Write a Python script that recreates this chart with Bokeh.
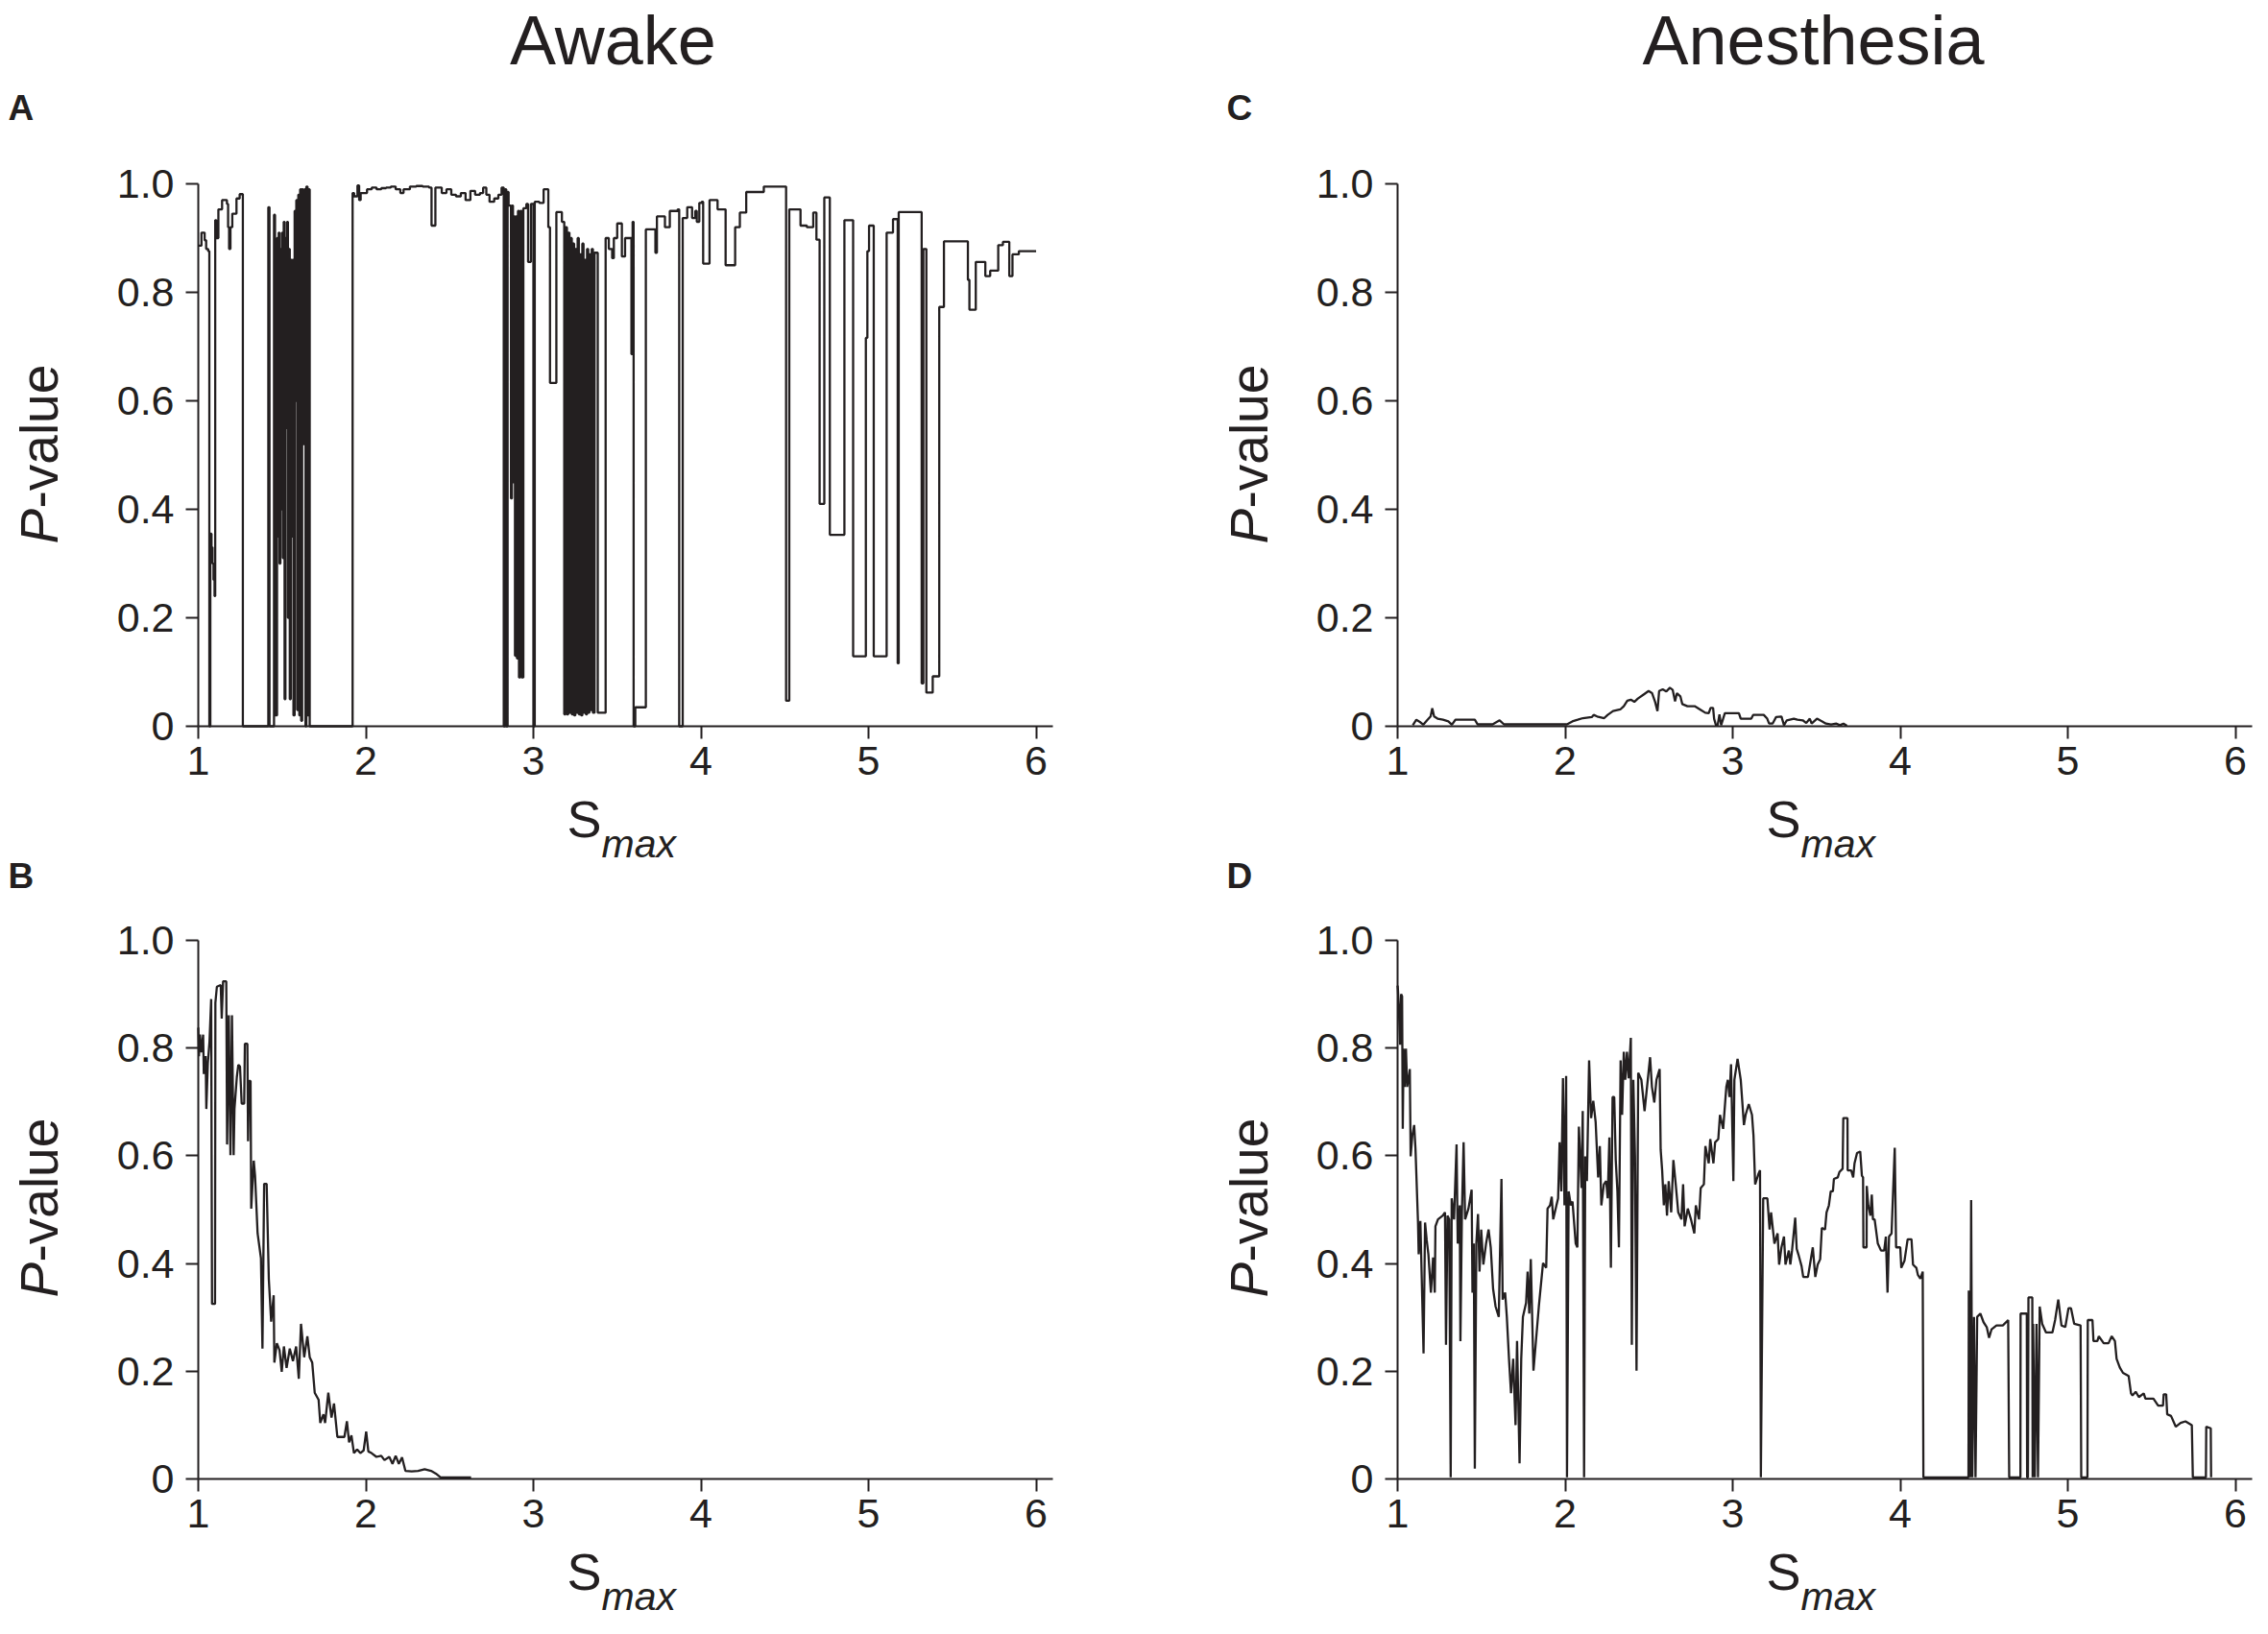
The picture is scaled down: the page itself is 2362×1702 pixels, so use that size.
import math
from bokeh.plotting import figure
from bokeh.models import Range1d, FixedTicker, Label
from bokeh.layouts import column, row
from bokeh.embed import file_html
from bokeh.resources import INLINE

# ---------------- data ----------------
X_TICKS = [1, 2, 3, 4, 5, 6]
Y_TICKS = [0, 0.2, 0.4, 0.6, 0.8, 1.0]
Y_TICK_LABELS = ["0", "0.2", "0.4", "0.6", "0.8", "1.0"]
TITLES = ["Awake", "Anesthesia"]
PANEL_LETTERS = ["A", "B", "C", "D"]

# Panel A (awake, step curve)
A_X = [1.000, 1.019, 1.038, 1.047, 1.059, 1.066, 1.072, 1.079, 1.085, 1.091,
       1.097, 1.101, 1.108, 1.120, 1.142, 1.171, 1.178, 1.184, 1.192, 1.203,
       1.228, 1.247, 1.266, 1.418, 1.425, 1.452, 1.458, 1.470, 1.475, 1.480,
       1.485, 1.490, 1.495, 1.500, 1.505, 1.510, 1.515, 1.520, 1.525, 1.530,
       1.535, 1.540, 1.546, 1.552, 1.558, 1.563, 1.568, 1.575, 1.580, 1.585,
       1.590, 1.597, 1.603, 1.608, 1.614, 1.620, 1.626, 1.634, 1.640, 1.645,
       1.652, 1.658, 1.665, 1.921, 1.930, 1.950, 1.960, 1.969, 2.007, 2.035,
       2.064, 2.092, 2.121, 2.149, 2.178, 2.206, 2.225, 2.263, 2.301, 2.339,
       2.377, 2.392, 2.415, 2.453, 2.481, 2.510, 2.538, 2.567, 2.595, 2.624,
       2.652, 2.681, 2.700, 2.719, 2.738, 2.766, 2.791, 2.810, 2.823, 2.832,
       2.838, 2.846, 2.852, 2.866, 2.872, 2.878, 2.884, 2.890, 2.896, 2.902,
       2.908, 2.914, 2.922, 2.930, 2.940, 2.958, 2.968, 2.985, 3.000, 3.008,
       3.035, 3.061, 3.089, 3.099, 3.137, 3.170, 3.184, 3.192, 3.200, 3.208,
       3.215, 3.222, 3.229, 3.236, 3.243, 3.250, 3.257, 3.264, 3.271, 3.278,
       3.285, 3.292, 3.299, 3.306, 3.313, 3.320, 3.327, 3.334, 3.341, 3.348,
       3.355, 3.365, 3.384, 3.431, 3.450, 3.470, 3.480, 3.500, 3.519, 3.528,
       3.547, 3.576, 3.585, 3.592, 3.598, 3.608, 3.671, 3.728, 3.737, 3.785,
       3.814, 3.861, 3.870, 3.891, 3.918, 3.947, 3.966, 3.975, 3.990, 4.004,
       4.013, 4.051, 4.099, 4.147, 4.204, 4.232, 4.270, 4.375, 4.508, 4.527,
       4.594, 4.632, 4.670, 4.689, 4.708, 4.736, 4.769, 4.856, 4.908, 4.984,
       4.993, 5.003, 5.031, 5.108, 5.146, 5.174, 5.180, 5.317, 5.327, 5.345,
       5.383, 5.422, 5.450, 5.593, 5.602, 5.640, 5.697, 5.726, 5.774, 5.802,
       5.840, 5.859, 5.897, 6.000]
A_Y = [0.886, 0.910, 0.896, 0.880, 0.876, 0.000, 0.355, 0.330, 0.300, 0.270,
       0.240, 0.933, 0.900, 0.953, 0.970, 0.963, 0.920, 0.880, 0.920, 0.945,
       0.973, 0.981, 0.000, 0.957, 0.000, 0.943, 0.020, 0.900, 0.350, 0.910,
       0.300, 0.880, 0.400, 0.910, 0.310, 0.930, 0.050, 0.900, 0.550, 0.930,
       0.200, 0.880, 0.050, 0.860, 0.350, 0.860, 0.020, 0.950, 0.600, 0.970,
       0.030, 0.980, 0.020, 0.990, 0.010, 0.990, 0.520, 0.990, 0.000, 0.995,
       0.020, 0.990, 0.000, 0.983, 0.977, 0.997, 0.970, 0.983, 0.990, 0.993,
       0.990, 0.992, 0.993, 0.995, 0.990, 0.983, 0.990, 0.995, 0.996, 0.995,
       0.993, 0.923, 0.993, 0.983, 0.990, 0.980, 0.977, 0.983, 0.970, 0.987,
       0.980, 0.983, 0.993, 0.980, 0.967, 0.973, 0.980, 0.993, 0.000, 0.990,
       0.000, 0.985, 0.960, 0.420, 0.960, 0.450, 0.940, 0.130, 0.940, 0.125,
       0.950, 0.090, 0.950, 0.090, 0.955, 0.963, 0.856, 0.963, 0.000, 0.967,
       0.965, 0.990, 0.920, 0.633, 0.948, 0.930, 0.022, 0.920, 0.022, 0.910,
       0.025, 0.900, 0.022, 0.890, 0.020, 0.880, 0.025, 0.900, 0.022, 0.870,
       0.020, 0.890, 0.025, 0.860, 0.022, 0.880, 0.025, 0.870, 0.030, 0.880,
       0.025, 0.873, 0.025, 0.900, 0.880, 0.863, 0.900, 0.927, 0.927, 0.866,
       0.900, 0.900, 0.686, 0.930, 0.000, 0.035, 0.916, 0.873, 0.940, 0.920,
       0.950, 0.953, 0.000, 0.937, 0.957, 0.937, 0.950, 0.930, 0.965, 0.967,
       0.853, 0.970, 0.953, 0.850, 0.920, 0.947, 0.985, 0.995, 0.047, 0.953,
       0.923, 0.920, 0.947, 0.897, 0.410, 0.975, 0.353, 0.933, 0.129, 0.716,
       0.876, 0.923, 0.129, 0.910, 0.935, 0.116, 0.948, 0.079, 0.880, 0.062,
       0.092, 0.773, 0.894, 0.823, 0.768, 0.856, 0.830, 0.840, 0.887, 0.893,
       0.830, 0.870, 0.876, 0.876]

# Panel B (awake)
B_X = [1.000, 1.004, 1.010, 1.019, 1.029, 1.033, 1.044, 1.048, 1.057, 1.067,
       1.077, 1.082, 1.100, 1.102, 1.111, 1.134, 1.140, 1.148, 1.167, 1.172,
       1.182, 1.192, 1.201, 1.211, 1.216, 1.230, 1.239, 1.249, 1.259, 1.274,
       1.278, 1.293, 1.297, 1.303, 1.312, 1.316, 1.331, 1.339, 1.354, 1.374,
       1.383, 1.393, 1.408, 1.421, 1.435, 1.450, 1.454, 1.469, 1.485, 1.498,
       1.511, 1.527, 1.546, 1.565, 1.584, 1.600, 1.613, 1.632, 1.651, 1.665,
       1.680, 1.695, 1.718, 1.728, 1.747, 1.757, 1.776, 1.795, 1.810, 1.830,
       1.872, 1.887, 1.900, 1.914, 1.929, 1.948, 1.967, 1.987, 2.002, 2.015,
       2.034, 2.063, 2.092, 2.111, 2.140, 2.159, 2.178, 2.197, 2.216, 2.236,
       2.274, 2.312, 2.351, 2.389, 2.418, 2.446, 2.628]
B_Y = [0.838, 0.785, 0.825, 0.792, 0.825, 0.752, 0.785, 0.687, 0.772, 0.812,
       0.891, 0.325, 0.325, 0.884, 0.914, 0.917, 0.855, 0.924, 0.924, 0.621,
       0.861, 0.601, 0.861, 0.601, 0.687, 0.746, 0.769, 0.766, 0.697, 0.697,
       0.808, 0.808, 0.627, 0.739, 0.739, 0.502, 0.591, 0.562, 0.456, 0.410,
       0.242, 0.548, 0.548, 0.371, 0.292, 0.341, 0.216, 0.252, 0.239, 0.199,
       0.246, 0.206, 0.242, 0.219, 0.246, 0.186, 0.288, 0.226, 0.265, 0.226,
       0.216, 0.160, 0.147, 0.104, 0.120, 0.104, 0.160, 0.114, 0.140, 0.078,
       0.078, 0.107, 0.068, 0.081, 0.048, 0.055, 0.048, 0.053, 0.088, 0.051,
       0.048, 0.041, 0.043, 0.035, 0.041, 0.028, 0.043, 0.028, 0.040, 0.015,
       0.014, 0.015, 0.018, 0.015, 0.010, 0.003, 0.003]

# Panel C (anesthesia)
C_X = [1.091, 1.112, 1.133, 1.154, 1.176, 1.197, 1.207, 1.218, 1.239, 1.271,
       1.303, 1.324, 1.345, 1.461, 1.478, 1.567, 1.609, 1.635, 2.011, 2.043,
       2.075, 2.106, 2.159, 2.170, 2.191, 2.233, 2.254, 2.286, 2.329, 2.350,
       2.371, 2.392, 2.413, 2.434, 2.466, 2.498, 2.519, 2.536, 2.551, 2.561,
       2.582, 2.604, 2.625, 2.642, 2.656, 2.667, 2.688, 2.699, 2.730, 2.773,
       2.805, 2.836, 2.857, 2.868, 2.883, 2.889, 2.900, 2.910, 2.921, 2.931,
       2.953, 3.037, 3.048, 3.111, 3.122, 3.185, 3.206, 3.217, 3.238, 3.259,
       3.291, 3.306, 3.323, 3.365, 3.386, 3.418, 3.439, 3.460, 3.471, 3.503,
       3.534, 3.556, 3.587, 3.619, 3.640, 3.661, 3.682]
C_Y = [0.002, 0.012, 0.008, 0.003, 0.011, 0.018, 0.033, 0.018, 0.014, 0.012,
       0.009, 0.003, 0.012, 0.012, 0.0035, 0.0035, 0.011, 0.0035, 0.0035, 0.009,
       0.012, 0.015, 0.017, 0.021, 0.018, 0.015, 0.021, 0.028, 0.031, 0.037,
       0.047, 0.049, 0.045, 0.051, 0.058, 0.065, 0.061, 0.046, 0.028, 0.065,
       0.068, 0.064, 0.071, 0.067, 0.046, 0.061, 0.055, 0.041, 0.037, 0.037,
       0.031, 0.025, 0.024, 0.034, 0.034, 0.014, 0.002, 0.002, 0.022, 0.002,
       0.024, 0.024, 0.014, 0.014, 0.021, 0.021, 0.014, 0.005, 0.005, 0.017,
       0.018, 0.002, 0.011, 0.014, 0.012, 0.011, 0.006, 0.014, 0.005, 0.014,
       0.009, 0.005, 0.0035, 0.005, 0.002, 0.005, 0.001]

# Panel D (anesthesia)
D_X = [1.000, 1.002, 1.008, 1.015, 1.021, 1.027, 1.031, 1.036, 1.042, 1.050,
       1.057, 1.065, 1.073, 1.078, 1.088, 1.099, 1.107, 1.122, 1.126, 1.136,
       1.155, 1.164, 1.174, 1.184, 1.199, 1.212, 1.222, 1.226, 1.241, 1.270,
       1.283, 1.289, 1.298, 1.308, 1.317, 1.323, 1.337, 1.352, 1.359, 1.371,
       1.375, 1.384, 1.394, 1.403, 1.423, 1.442, 1.447, 1.455, 1.461, 1.470,
       1.480, 1.489, 1.499, 1.512, 1.528, 1.543, 1.556, 1.570, 1.585, 1.604,
       1.620, 1.627, 1.642, 1.652, 1.665, 1.677, 1.690, 1.704, 1.713, 1.728,
       1.738, 1.748, 1.767, 1.776, 1.786, 1.795, 1.811, 1.843, 1.868, 1.887,
       1.895, 1.910, 1.920, 1.929, 1.948, 1.958, 1.967, 1.977, 1.987, 1.996,
       2.006, 2.011, 2.021, 2.034, 2.044, 2.063, 2.073, 2.082, 2.098, 2.105,
       2.113, 2.120, 2.130, 2.143, 2.155, 2.168, 2.182, 2.197, 2.207, 2.216,
       2.231, 2.245, 2.254, 2.264, 2.273, 2.283, 2.293, 2.302, 2.312, 2.321,
       2.331, 2.340, 2.350, 2.359, 2.369, 2.379, 2.392, 2.398, 2.407, 2.417,
       2.426, 2.436, 2.455, 2.474, 2.493, 2.507, 2.518, 2.532, 2.545, 2.564,
       2.570, 2.579, 2.589, 2.598, 2.608, 2.618, 2.633, 2.646, 2.660, 2.675,
       2.694, 2.704, 2.713, 2.732, 2.751, 2.771, 2.780, 2.799, 2.809, 2.828,
       2.837, 2.857, 2.866, 2.885, 2.895, 2.914, 2.924, 2.943, 2.962, 2.971,
       2.981, 2.990, 3.004, 3.010, 3.029, 3.048, 3.067, 3.077, 3.096, 3.115,
       3.124, 3.134, 3.153, 3.163, 3.168, 3.182, 3.207, 3.220, 3.229, 3.249,
       3.268, 3.277, 3.291, 3.306, 3.315, 3.335, 3.344, 3.354, 3.373, 3.382,
       3.392, 3.411, 3.421, 3.449, 3.478, 3.493, 3.507, 3.522, 3.532, 3.551,
       3.560, 3.574, 3.585, 3.598, 3.604, 3.627, 3.637, 3.656, 3.660, 3.685,
       3.686, 3.707, 3.719, 3.727, 3.742, 3.761, 3.771, 3.778, 3.780, 3.799,
       3.800, 3.809, 3.822, 3.830, 3.837, 3.847, 3.866, 3.885, 3.904, 3.914,
       3.924, 3.933, 3.948, 3.967, 3.975, 3.987, 4.000, 4.006, 4.025, 4.044,
       4.067, 4.076, 4.096, 4.105, 4.120, 4.134, 4.138, 4.407, 4.409, 4.417,
       4.423, 4.430, 4.440, 4.449, 4.459, 4.478, 4.497, 4.516, 4.530, 4.545,
       4.574, 4.612, 4.644, 4.650, 4.717, 4.718, 4.755, 4.757, 4.762, 4.765,
       4.788, 4.790, 4.793, 4.803, 4.813, 4.822, 4.832, 4.847, 4.870, 4.908,
       4.924, 4.943, 4.962, 4.985, 5.004, 5.019, 5.038, 5.076, 5.080, 5.117,
       5.119, 5.147, 5.153, 5.176, 5.185, 5.214, 5.243, 5.262, 5.281, 5.291,
       5.310, 5.329, 5.363, 5.377, 5.386, 5.405, 5.424, 5.453, 5.463, 5.511,
       5.539, 5.568, 5.572, 5.587, 5.593, 5.616, 5.644, 5.673, 5.702, 5.740,
       5.746, 5.824, 5.826, 5.853, 5.855]
D_Y = [0.916, 0.909, 0.871, 0.806, 0.900, 0.896, 0.650, 0.799, 0.728, 0.799,
       0.728, 0.741, 0.761, 0.599, 0.638, 0.657, 0.612, 0.476, 0.417, 0.479,
       0.233, 0.476, 0.443, 0.417, 0.346, 0.411, 0.346, 0.469, 0.482, 0.489,
       0.495, 0.249, 0.489, 0.482, 0.003, 0.521, 0.482, 0.621, 0.437, 0.508,
       0.256, 0.495, 0.625, 0.482, 0.502, 0.537, 0.346, 0.437, 0.019, 0.437,
       0.492, 0.385, 0.463, 0.398, 0.437, 0.463, 0.430, 0.353, 0.320, 0.301,
       0.557, 0.333, 0.346, 0.301, 0.223, 0.159, 0.223, 0.100, 0.256, 0.029,
       0.223, 0.301, 0.327, 0.385, 0.307, 0.408, 0.201, 0.320, 0.401, 0.392,
       0.502, 0.508, 0.524, 0.482, 0.508, 0.521, 0.625, 0.534, 0.744, 0.508,
       0.748, 0.003, 0.534, 0.508, 0.515, 0.437, 0.430, 0.654, 0.540, 0.683,
       0.003, 0.599, 0.553, 0.777, 0.670, 0.702, 0.663, 0.560, 0.618, 0.508,
       0.547, 0.553, 0.521, 0.634, 0.392, 0.709, 0.709, 0.592, 0.534, 0.430,
       0.777, 0.676, 0.793, 0.741, 0.793, 0.744, 0.819, 0.249, 0.741, 0.599,
       0.201, 0.754, 0.741, 0.683, 0.741, 0.783, 0.728, 0.699, 0.741, 0.761,
       0.612, 0.573, 0.508, 0.547, 0.489, 0.553, 0.495, 0.592, 0.547, 0.495,
       0.482, 0.547, 0.469, 0.502, 0.482, 0.456, 0.508, 0.482, 0.540, 0.547,
       0.618, 0.586, 0.631, 0.586, 0.625, 0.631, 0.676, 0.650, 0.728, 0.741,
       0.709, 0.770, 0.553, 0.741, 0.780, 0.741, 0.657, 0.676, 0.696, 0.676,
       0.638, 0.547, 0.566, 0.573, 0.003, 0.521, 0.521, 0.463, 0.495, 0.437,
       0.456, 0.398, 0.430, 0.450, 0.398, 0.424, 0.398, 0.424, 0.485, 0.427,
       0.417, 0.395, 0.375, 0.375, 0.430, 0.375, 0.398, 0.408, 0.466, 0.463,
       0.495, 0.508, 0.534, 0.534, 0.557, 0.560, 0.570, 0.576, 0.670, 0.670,
       0.573, 0.573, 0.560, 0.586, 0.605, 0.608, 0.563, 0.560, 0.430, 0.430,
       0.544, 0.508, 0.489, 0.528, 0.482, 0.482, 0.437, 0.424, 0.424, 0.450,
       0.346, 0.450, 0.456, 0.615, 0.430, 0.430, 0.430, 0.392, 0.405, 0.445,
       0.445, 0.398, 0.392, 0.379, 0.372, 0.385, 0.003, 0.003, 0.350, 0.003,
       0.518, 0.003, 0.301, 0.003, 0.301, 0.307, 0.291, 0.282, 0.262, 0.278,
       0.285, 0.285, 0.295, 0.003, 0.003, 0.307, 0.307, 0.003, 0.003, 0.337,
       0.337, 0.003, 0.288, 0.003, 0.288, 0.003, 0.320, 0.288, 0.272, 0.272,
       0.295, 0.333, 0.285, 0.282, 0.317, 0.317, 0.288, 0.285, 0.003, 0.003,
       0.295, 0.295, 0.256, 0.256, 0.265, 0.252, 0.252, 0.265, 0.256, 0.223,
       0.207, 0.197, 0.191, 0.159, 0.155, 0.162, 0.152, 0.159, 0.149, 0.149,
       0.136, 0.136, 0.157, 0.157, 0.120, 0.117, 0.097, 0.104, 0.107, 0.100,
       0.003, 0.003, 0.097, 0.094, 0.003]

assert len(A_X) == len(A_Y), (len(A_X), len(A_Y))
assert len(B_X) == len(B_Y), (len(B_X), len(B_Y))
assert len(C_X) == len(C_Y), (len(C_X), len(C_Y))
assert len(D_X) == len(D_Y), (len(D_X), len(D_Y))

# ---------------- styling / layout (page pixels) ----------------
INK = "#231f20"
FONT = "Liberation Sans"
TICK_SIZE = "43px"
LINE_W = 2.3
PX = 890.0 / 5.1          # horizontal px per unit of s_max
WL, WR = 1242, 1118       # quadrant widths
HT, HB = 945, 755         # quadrant heights
BASE_SHIFT = 0.355        # label anchor sits this fraction of the font size above the baseline


class Quad:
    def __init__(self, ox, oy, w, h, x0, y0, py):
        self.ox, self.oy, self.w, self.h = ox, oy, w, h
        self.x0, self.y0, self.py = x0, y0, py
        p = figure(width=w, height=h,
                   x_range=Range1d(1 - x0 / PX, 1 + (w - x0) / PX),
                   y_range=Range1d((y0 - h) / py, y0 / py),
                   output_backend="svg", toolbar_location=None,
                   min_border=0, min_border_left=0, min_border_right=0,
                   min_border_top=0, min_border_bottom=0)
        p.outline_line_color = None
        p.grid.visible = False
        p.background_fill_color = "white"
        p.border_fill_color = "white"
        xa, ya = p.xaxis[0], p.yaxis[0]
        xa.fixed_location = 0
        ya.fixed_location = 1
        xa.bounds = (1, 6.1)
        ya.bounds = (0, 1)
        xa.ticker = FixedTicker(ticks=X_TICKS)
        ya.ticker = FixedTicker(ticks=Y_TICKS)
        ya.major_label_overrides = {t: s for t, s in zip(Y_TICKS, Y_TICK_LABELS)}
        for ax in (xa, ya):
            ax.axis_line_color = INK
            ax.axis_line_width = 2
            ax.major_tick_line_color = INK
            ax.major_tick_line_width = 2
            ax.major_tick_in = 0
            ax.major_tick_out = 13
            ax.minor_tick_line_color = None
            ax.major_label_text_font = FONT
            ax.major_label_text_font_size = TICK_SIZE
            ax.major_label_text_color = INK
        xa.major_label_standoff = 8
        ya.major_label_standoff = 12
        self.p = p

    def text(self, gx, gy, s, size, style="normal", align="left", rotated=False):
        # gx, gy: page pixel position of the text baseline start (or centre)
        shift = BASE_SHIFT * size
        if rotated:
            gx -= shift
        else:
            gy -= shift
        x = 1 + (gx - self.ox - self.x0) / PX
        y = (self.y0 - (gy - self.oy)) / self.py
        self.p.add_layout(Label(x=x, y=y, text=s, text_font=FONT,
                                text_font_size="%dpx" % size,
                                text_font_style=style, text_color=INK,
                                text_align=align, text_baseline="alphabetic",
                                angle=(math.pi / 2 if rotated else 0.0)))

    def ylabel(self, gx, g_start):
        self.text(gx, g_start, "P", 55, style="italic", rotated=True)
        self.text(gx, g_start - 37, "-value", 55, rotated=True)

    def xlabel(self, gx, g_base):
        self.text(gx, g_base, "S", 54)
        self.text(gx + 36, g_base + 21, "max", 41, style="italic")


qA = Quad(0, 0, WL, HT, 206, 756, 565.0)
qC = Quad(WL, 0, WR, HT, 1455 - WL, 756, 565.0)
qB = Quad(0, HT, WL, HB, 206, 1540 - HT, 561.0)
qD = Quad(WL, HT, WR, HB, 1455 - WL, 1540 - HT, 561.0)

qA.p.step(A_X, A_Y, mode="after", line_color=INK, line_width=LINE_W)
qB.p.line(B_X, B_Y, line_color=INK, line_width=LINE_W, line_join="bevel")
qC.p.line(C_X, C_Y, line_color=INK, line_width=LINE_W, line_join="bevel")
qD.p.line(D_X, D_Y, line_color=INK, line_width=LINE_W, line_join="bevel")

# column titles
qA.text(638, 67, TITLES[0], 72, align="center")
qC.text(1888, 67, TITLES[1], 72, align="center")

# panel letters
qA.text(8, 125, PANEL_LETTERS[0], 37, style="bold")
qA.text(8, 925, PANEL_LETTERS[1], 37, style="bold")
qC.text(1277, 125, PANEL_LETTERS[2], 37, style="bold")
qC.text(1277, 925, PANEL_LETTERS[3], 37, style="bold")

# axis titles
qA.ylabel(60, 566)
qC.ylabel(1320, 566)
qB.ylabel(60, 1351)
qD.ylabel(1320, 1351)
qA.xlabel(590, 872)
qC.xlabel(1839, 872)
qB.xlabel(590, 1656)
qD.xlabel(1839, 1656)

layout = column(row(qA.p, qC.p), row(qB.p, qD.p))

open("out.html", "w").write(file_html(layout, INLINE))
